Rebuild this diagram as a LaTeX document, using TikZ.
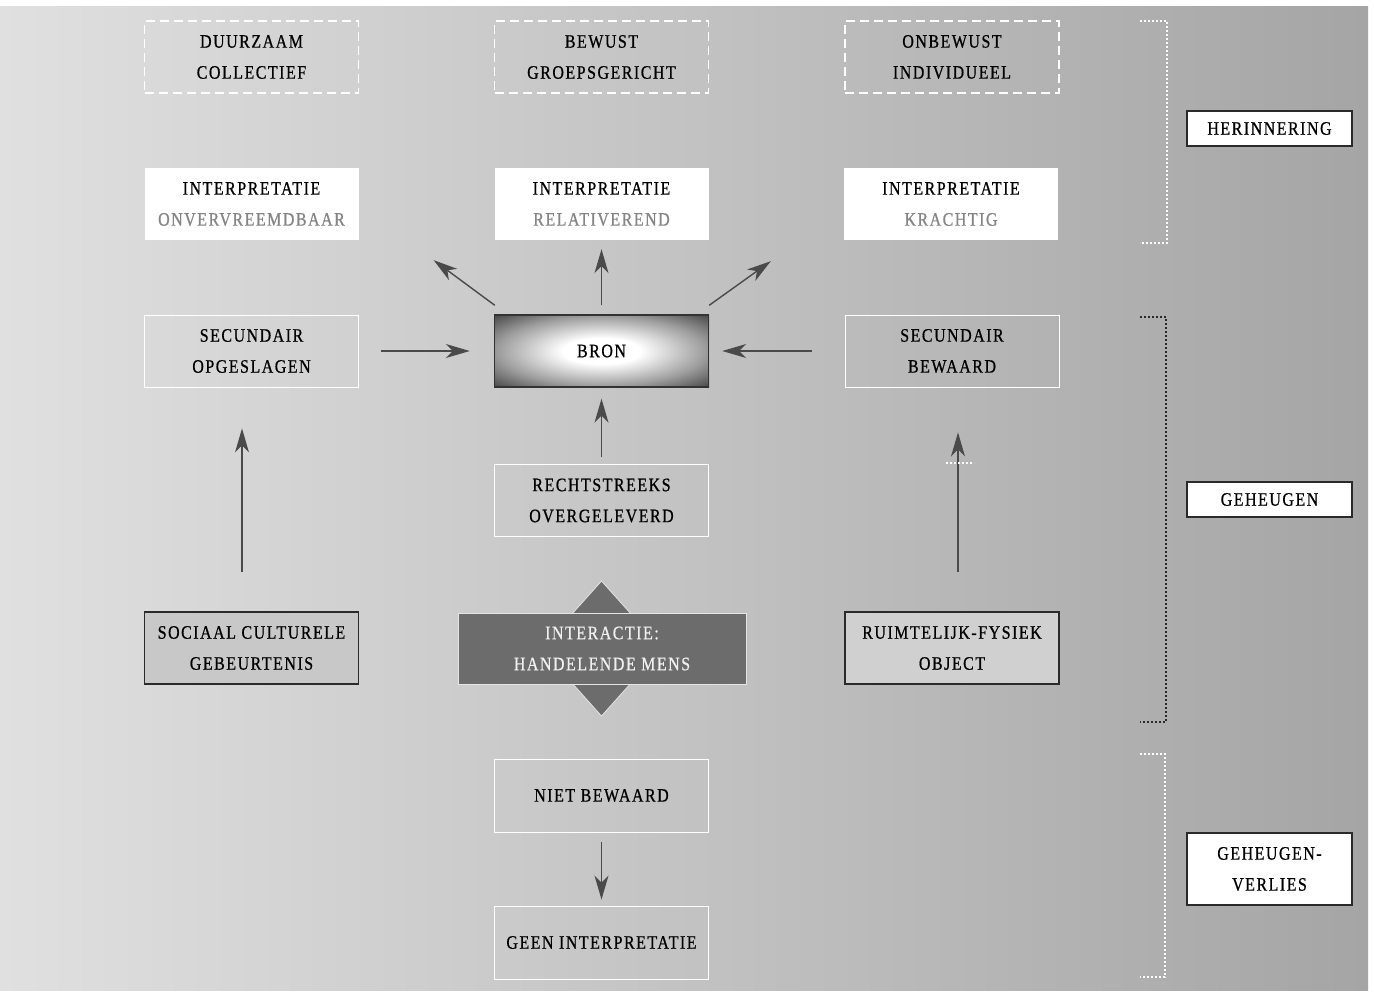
\documentclass[tikz,border=0pt]{standalone}
\usepackage{fontspec}
\setmainfont{Liberation Serif}[FakeStretch=0.84,LetterSpace=8,FakeBold=0.7]
\usetikzlibrary{arrows.meta}
\definecolor{arrowc}{HTML}{4A4A4A}
\definecolor{bgleft}{HTML}{E0E0E0}
\definecolor{bgright}{HTML}{A5A5A5}
\definecolor{subtxt}{HTML}{858585}
\definecolor{darkline}{HTML}{2A2A2A}
\definecolor{mensfill}{HTML}{6C6C6C}
\definecolor{socfill}{HTML}{C8C8C8}
\definecolor{ruimfill}{HTML}{D0D0D0}
\definecolor{bronedge}{HTML}{333333}
\pgfdeclareradialshading{bronshade}{\pgfpoint{0bp}{0bp}}{color(0bp)=(white); color(9bp)=(white); color(24bp)=(black!38); color(36bp)=(black!74); color(50bp)=(black!80); color(75bp)=(black!80)}
\tikzset{
  basebox/.style={minimum width=214pt, minimum height=72pt, inner sep=0pt, align=center, font=\fontsize{19}{31}\selectfont, text=black},
  dashbox/.style={basebox, draw=white, line width=1.6pt, dash pattern=on 9pt off 5pt},
  interpbox/.style={basebox, fill=white},
  thinbox/.style={basebox, draw=white, line width=0.9pt},
  darkbox/.style={basebox, draw=darkline, line width=1.2pt},
  labelbox/.style={minimum width=165pt, inner sep=0pt, align=center, font=\fontsize{19}{31}\selectfont, fill=white, draw=darkline, line width=1.2pt},
  arr/.style={draw=arrowc, line width=1.4pt, -{Stealth[length=24pt, width=14pt, inset=7pt]}},
  whitedots/.style={draw=white, line width=1.6pt, dash pattern=on 1.6pt off 2.4pt},
  blackdots/.style={draw=darkline, line width=1.6pt, dash pattern=on 1.6pt off 2.4pt}
}
\begin{document}
\begin{tikzpicture}[x=1pt,y=-1pt]
\useasboundingbox (0,0) rectangle (1374,993);
\fill[white] (0,0) rectangle (1374,993);
\shade[left color=bgleft, right color=bgright] (0,6) rectangle (1368,990);

% top row
\node[dashbox] (dur) at (251.5,57) {DUURZAAM\\COLLECTIEF};
\node[dashbox] (bew) at (601.5,57) {BEWUST\\GROEPSGERICHT};
\node[dashbox] (onb) at (952,57) {ONBEWUST\\INDIVIDUEEL};

% interpretatie row
\node[interpbox] (int1) at (251.5,204) {INTERPRETATIE\\\textcolor{subtxt}{ONVERVREEMDBAAR}};
\node[interpbox] (int2) at (601.5,204) {INTERPRETATIE\\\textcolor{subtxt}{RELATIVEREND}};
\node[interpbox] (int3) at (951,204) {INTERPRETATIE\\\textcolor{subtxt}{KRACHTIG}};

% middle row
\node[thinbox] (seco) at (251.5,351) {SECUNDAIR\\OPGESLAGEN};
\shade[shading=bronshade] (494,315) rectangle (709,387);
\node[basebox, draw=bronedge, line width=1.4pt] (bron) at (601.5,351) {BRON};
\node[thinbox] (secb) at (952,351) {SECUNDAIR\\BEWAARD};

\node[thinbox] (recht) at (601.5,500.5) {RECHTSTREEKS\\OVERGELEVERD};

% bottom row
\node[darkbox, fill=socfill] (soc) at (251.5,648) {SOCIAAL CULTURELE\\GEBEURTENIS};
\node[darkbox, fill=ruimfill] (ruim) at (952,648) {RUIMTELIJK-FYSIEK\\OBJECT};
\coordinate (dt) at (601.5,581);
\coordinate (dr) at (662,648.5);
\coordinate (db) at (601.5,716);
\coordinate (dl) at (541,648.5);
\filldraw[fill=mensfill, draw=white!80!gray, line width=0.8pt] (dt) -- (dr) -- (db) -- (dl) -- cycle;
\node[basebox, minimum width=288pt, minimum height=71pt, fill=mensfill, draw=white!80!gray, line width=0.8pt, text=white!94!black] (mens) at (602,648.5) {INTERACTIE:\\HANDELENDE MENS};

\node[thinbox, minimum height=73pt] (niet) at (601.5,795.5) {NIET BEWAARD};
\node[thinbox, minimum height=73pt] (geen) at (601.5,942.5) {GEEN INTERPRETATIE};

% right labels
\node[labelbox, minimum height=35pt] (her) at (1269.5,128.5) {HERINNERING};
\node[labelbox, minimum height=35pt] (geh) at (1269.5,499.5) {GEHEUGEN};
\node[labelbox, minimum height=72pt] (ver) at (1269.5,869) {GEHEUGEN-\\VERLIES};

% arrows
\draw[arr] ([shift={(1,-9)}]bron.north west) -- ([shift={(75,20)}]int1.south east);
\draw[arr] ([shift={(0,-9)}]bron.north) -- ([shift={(0,9)}]int2.south);
\draw[arr] ([shift={(0,-9)}]bron.north east) -- ([shift={(-73,21)}]int3.south west);
\draw[arr] ([shift={(22,0)}]seco.east) -- ([shift={(-24,0)}]bron.west);
\draw[arr] ([shift={(-33,0)}]secb.west) -- ([shift={(13,0)}]bron.east);
\draw[arr] ([shift={(0,-7)}]recht.north) -- ([shift={(0,11)}]bron.south);
\draw[arr] ([shift={(-9.5,-39)}]soc.north) -- ([shift={(-9.5,41)}]seco.south);
\draw[arr] ([shift={(6,-39)}]ruim.north) -- ([shift={(6,45)}]secb.south);
\draw[arr] ([shift={(0,10)}]niet.south) -- ([shift={(0,-6)}]geen.north);
\draw[whitedots] (946,463) -- (974,463);

% brackets
\coordinate (h1) at (1140,21); \coordinate (h2) at (1167,21);
\coordinate (h3) at (1167,243); \coordinate (h4) at (1140,243);
\draw[whitedots] (h1) -- (h2) -- (h3) -- (h4);
\coordinate (g1) at (1140,317); \coordinate (g2) at (1166,317);
\coordinate (g3) at (1166,722); \coordinate (g4) at (1140,722);
\draw[blackdots] (g1) -- (g2) -- (g3) -- (g4);
\coordinate (v1) at (1140,754); \coordinate (v2) at (1165,754);
\coordinate (v3) at (1165,977); \coordinate (v4) at (1140,977);
\draw[whitedots] (v1) -- (v2) -- (v3) -- (v4);
\end{tikzpicture}
\end{document}
